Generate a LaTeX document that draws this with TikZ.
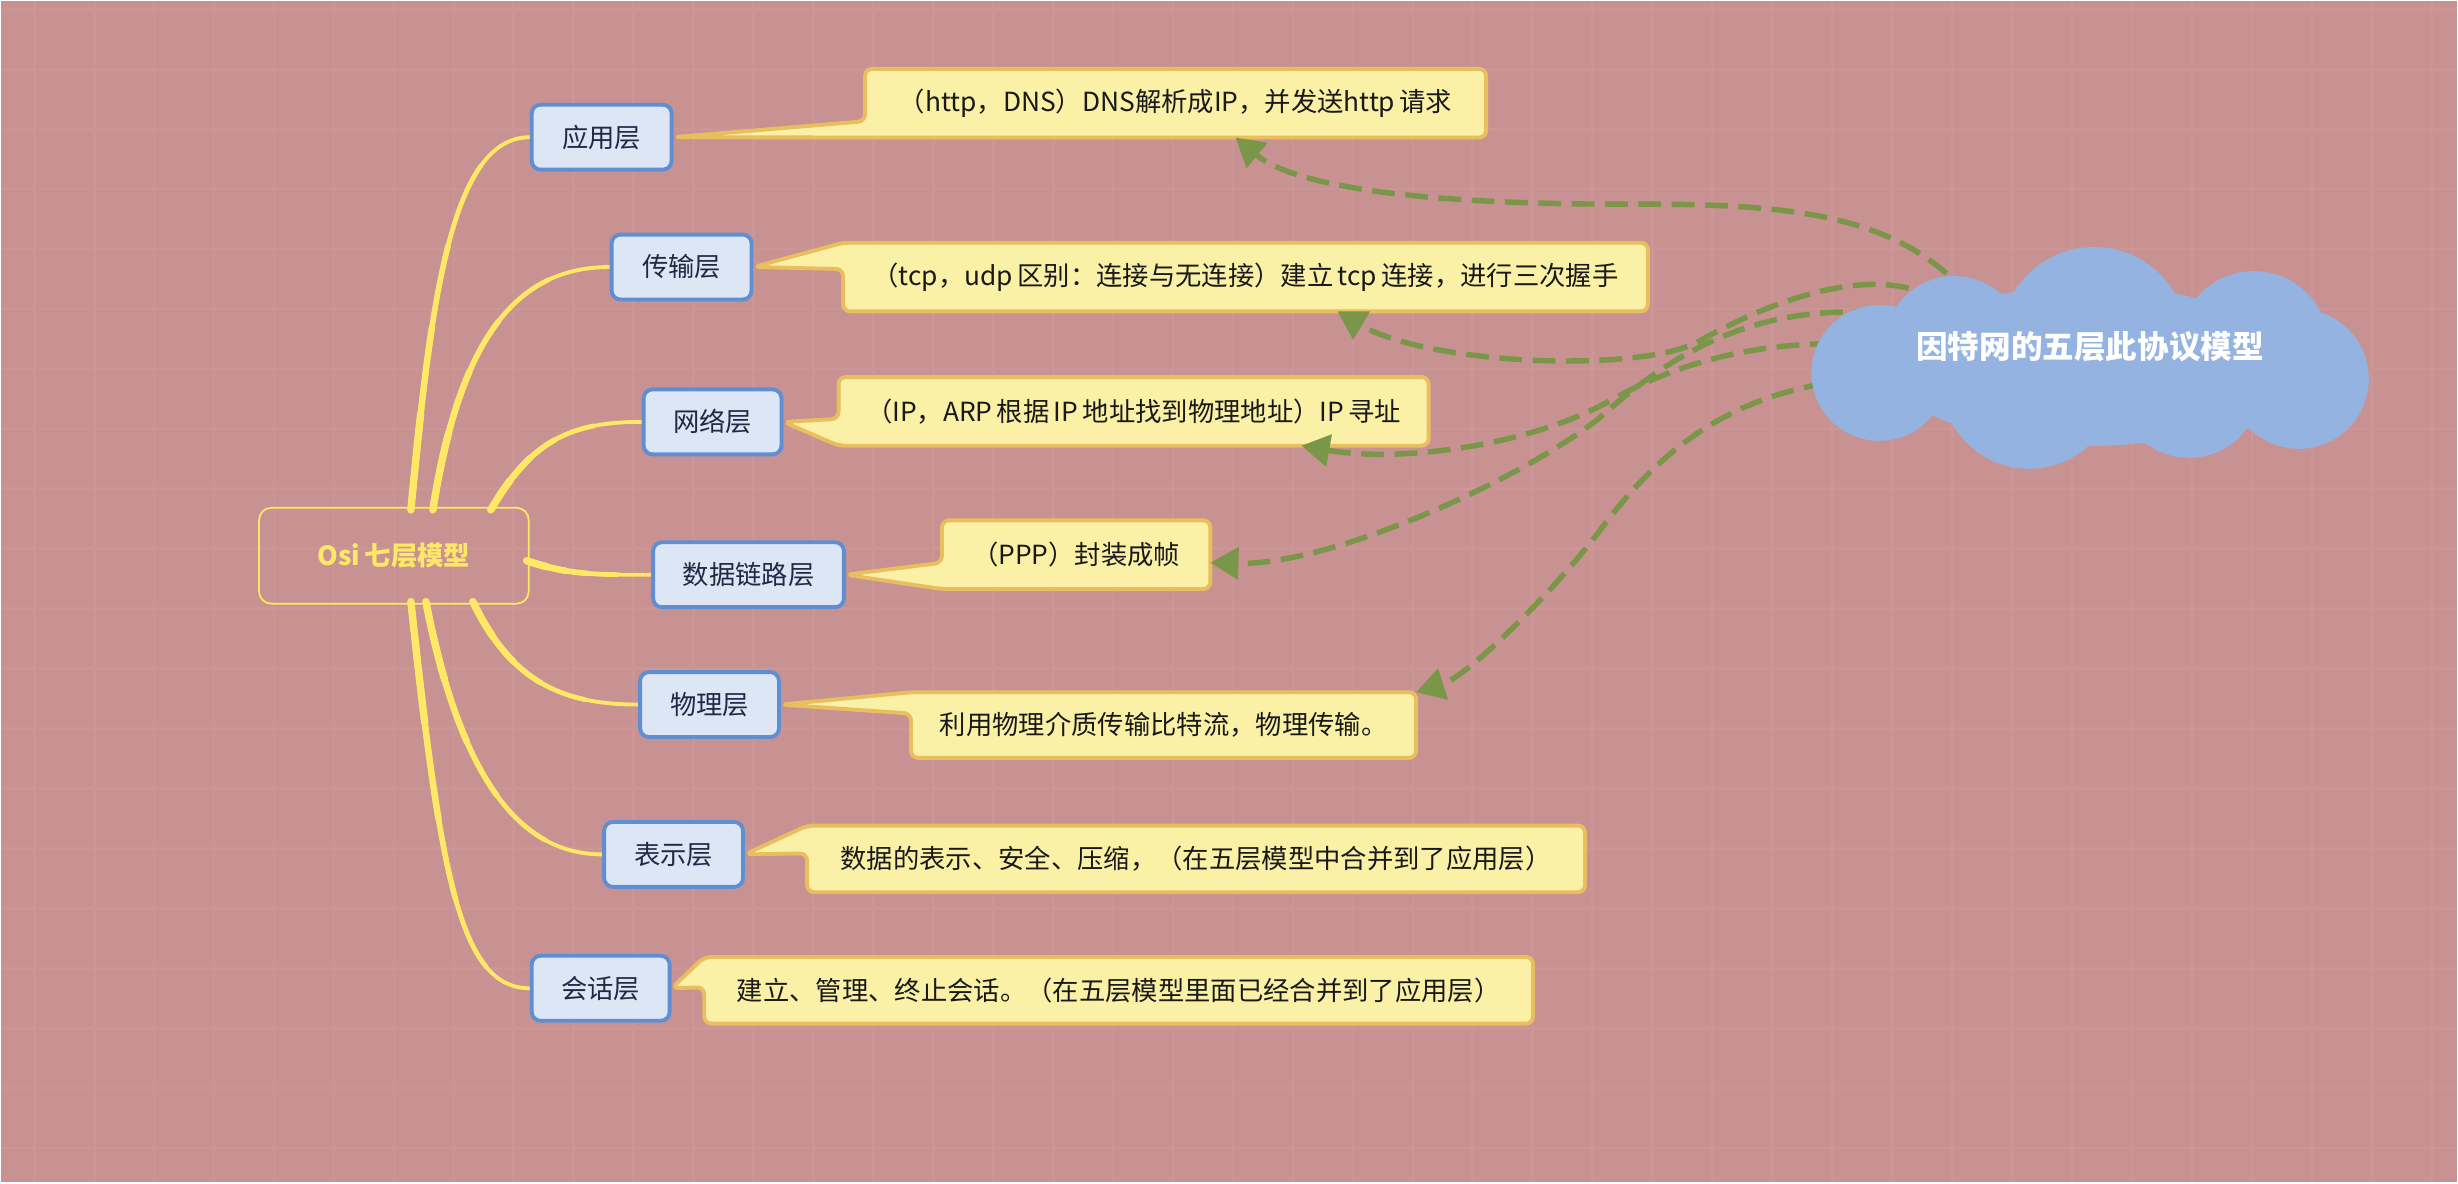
\documentclass[tikz,border=0pt]{standalone}
\usepackage[dvipsnames]{xcolor}
\usepackage{fontspec}
\setmainfont{Noto Sans CJK SC}
\usetikzlibrary{arrows.meta,calc}

\definecolor{bgpink}{RGB}{200,146,146}
\definecolor{bgline}{RGB}{204,150,150}
\definecolor{branchyellow}{RGB}{255,232,102}
\definecolor{layerfill}{RGB}{221,230,244}
\definecolor{layerblue}{RGB}{96,142,210}
\definecolor{layertext}{RGB}{30,42,70}
\definecolor{notefill}{RGB}{250,240,166}
\definecolor{noteline}{RGB}{233,190,95}
\definecolor{cloudblue}{RGB}{148,179,224}
\definecolor{arrowgreen}{RGB}{122,150,72}

\newdimen\pxu \pxu=0.02cm
\newcommand\layerfont{\fontsize{15}{18}\selectfont}
% callout outline of a note: pointer leaves the top-left corner or ends at the bottom-left corner
\newcommand\notetop[3]{\draw[note shape] (#3) -- (#1.north west) -- (#1.north east) -- (#1.south east) -- (#1.south west) -- (#1.west |- #2) -- cycle;}
\newcommand\notebot[3]{\draw[note shape] (#1.west |- #2) -- (#1.north west) -- (#1.north east) -- (#1.south east) -- (#1.south west) -- (#3) -- cycle;}
% tapered branch: the first part of the curve (up to #1) drawn again, wider
\newcommand\branchpart[2]{%
    \coordinate (q0) at ($(b0)!#1!(b1)$);
    \coordinate (q1) at ($(b1)!#1!(b2)$);
    \coordinate (q2) at ($(b2)!#1!(b3)$);
    \coordinate (r0) at ($(q0)!#1!(q1)$);
    \coordinate (r1) at ($(q1)!#1!(q2)$);
    \draw[branch,line width=#2] (b0) .. controls (q0) and (r0) .. ($(r0)!#1!(r1)$);}
\newcommand\branchto[4]{%
    \coordinate (b0) at #1; \coordinate (b1) at #2;
    \coordinate (b2) at #3; \coordinate (b3) at #4;
    \foreach \t/\w in {1/2.2pt,0.75/2.7pt,0.5/3.2pt,0.32/3.7pt,0.16/4.2pt}
        {\branchpart{\t}{\w}}}

\pgfdeclarelayer{background}
\pgfsetlayers{background,main}

\begin{document}
\begin{tikzpicture}[x=0.02cm,y=-0.02cm,
    osi node/.style={draw=branchyellow,line width=1pt,rounded corners=7pt,minimum width=270\pxu,minimum height=96\pxu,text=branchyellow,font=\bfseries\layerfont},
    layer node/.style={draw=layerblue,fill=layerfill,line width=2.2pt,rounded corners=5pt,minimum height=65\pxu,inner sep=0pt,text=layertext,font=\layerfont},
    note node/.style={minimum height=68\pxu,inner sep=0pt,text=black!90,font=\layerfont},
    note shape/.style={draw=noteline,fill=notefill,line width=2.2pt,rounded corners=4pt,line join=round},
    branch/.style={draw=branchyellow,line cap=round},
    link/.style={draw=arrowgreen,line width=3.1pt,dash pattern=on 13pt off 6pt,-{Triangle[length=16pt,width=18pt]}}]

    \begin{pgfonlayer}{background}
        \fill[bgpink] (0,0) rectangle (2458,1182);
        \foreach \x in {33,93,...,2458}
            \draw[bgline,line width=1.5pt] (\x,0) -- (\x,1182);
        \foreach \y in {8,68,...,1182}
            \draw[bgline,line width=1.5pt] (0,\y) -- (2458,\y);
    \end{pgfonlayer}
    \useasboundingbox (0,0) rectangle (2458,1182);

    \node[osi node] (osi) at (393,555) {Osi\,七层模型};

    \node[layer node,minimum width=140\pxu] (l1) at (601,136) {应用层};
    \node[layer node,minimum width=140\pxu] (l2) at (681,266) {传输层};
    \node[layer node,minimum width=138\pxu] (l3) at (712,421) {网络层};
    \node[layer node,minimum width=191\pxu] (l4) at (748,574) {数据链路层};
    \node[layer node,minimum width=139\pxu] (l5) at (709,704) {物理层};
    \node[layer node,minimum width=139\pxu] (l6) at (673,854) {表示层};
    \node[layer node,minimum width=138\pxu] (l7) at (600,988) {会话层};

    % branches
    \begin{pgfonlayer}{background}
        \branchto{($(osi.north)+(17,3)$)}{(430,300)}{(450,136)}{(l1.west)}
        \branchto{($(osi.north)+(39,3)$)}{(460,330)}{(520,266)}{(l2.west)}
        \branchto{($(osi.north)+(97,3)$)}{(530,440)}{(570,421)}{(l3.west)}
        \branchto{($(osi.east)+(-3,5)$)}{(570,575)}{(600,574)}{(l4.west)}
        \branchto{($(osi.south)+(79,-3)$)}{(510,680)}{(560,704)}{(l5.west)}
        \branchto{($(osi.south)+(32,-3)$)}{(460,780)}{(520,854)}{(l6.west)}
        \branchto{($(osi.south)+(17,-3)$)}{(440,880)}{(460,988)}{(l7.west)}
    \end{pgfonlayer}

    \node[note node,minimum width=621\pxu] (n1) at (1175.5,102) {（http，DNS）DNS解析成IP，并发送http\,请求};
    \node[note node,minimum width=805\pxu] (n2) at (1245.5,276) {（tcp，udp\,区别：连接与无连接）建立\,tcp\,连接，进行三次握手};
    \node[note node,minimum width=590\pxu] (n3) at (1133.5,410.5) {（IP，ARP\,根据\,IP\,地址找到物理地址）IP\,寻址};
    \node[note node,minimum width=268\pxu] (n4) at (1076,554) {（PPP）封装成帧};
    \node[note node,minimum width=505\pxu,minimum height=65\pxu] (n5) at (1163.5,724.5) {利用物理介质传输比特流，物理传输。};
    \node[note node,minimum width=778\pxu,minimum height=66\pxu] (n6) at (1196,858.5) {数据的表示、安全、压缩，（在五层模型中合并到了应用层）};
    \node[note node,minimum width=829\pxu,minimum height=66\pxu] (n7) at (1118.5,990) {建立、管理、终止会话。（在五层模型里面已经合并到了应用层）};

    \node[text=white,font=\bfseries\fontsize{18}{22}\selectfont] (inet) at (2091,346) {因特网的五层此协议模型};

    \begin{pgfonlayer}{background}
        \notebot{n1}{0,120}{l1.east}
        \notetop{n2}{0,268}{l2.east}
        \notebot{n3}{0,418}{l3.east}
        \notebot{n4}{0,562}{l4.east}
        \notetop{n5}{0,713}{l5.east}
        \notetop{n6}{0,853}{l6.east}
        \notetop{n7}{0,987}{l7.east}

        % links from the five-layer model
        \draw[link] ($(inet.center)+(-120,-50)$) .. controls (1900,215) and (1800,203) .. (1640,203)
            .. controls (1450,204) and (1300,190) .. ($(n1.south)+(60,0)$);
        \draw[link] ($(inet.center)+(-151,-46)$) .. controls (1880,262) and (1780,295) .. (1700,340)
            .. controls (1644,372) and (1430,365) .. ($(n2.south)+(92,0)$);
        \draw[link] ($(inet.center)+(-191,-1)$) .. controls (1780,335) and (1690,355) .. (1610,400)
            .. controls (1530,445) and (1400,462) .. ($(n3.south)+(168,0)$);
        \draw[link] ($(inet.center)+(-181,-31)$) .. controls (1770,296) and (1680,345) .. (1600,417)
            .. controls (1520,480) and (1330,565) .. ($(n4.east)+(0,8)$);
        \draw[link] ($(inet.center)+(-231,32)$) .. controls (1730,390) and (1660,450) .. (1600,530)
            .. controls (1558,586) and (1470,675) .. (n5.north east);

        % cloud behind the model name
        \fill[cloudblue] (2095,340) circle[radius=94] (2255,345) circle[radius=75]
            (2300,378) circle[radius=70] (2190,385) circle[radius=72]
            (2030,380) circle[radius=88] (1880,372) circle[radius=68]
            (1955,345) circle[radius=70] (2091,365) ellipse[x radius=200,y radius=80];
    \end{pgfonlayer}
\end{tikzpicture}
\end{document}
